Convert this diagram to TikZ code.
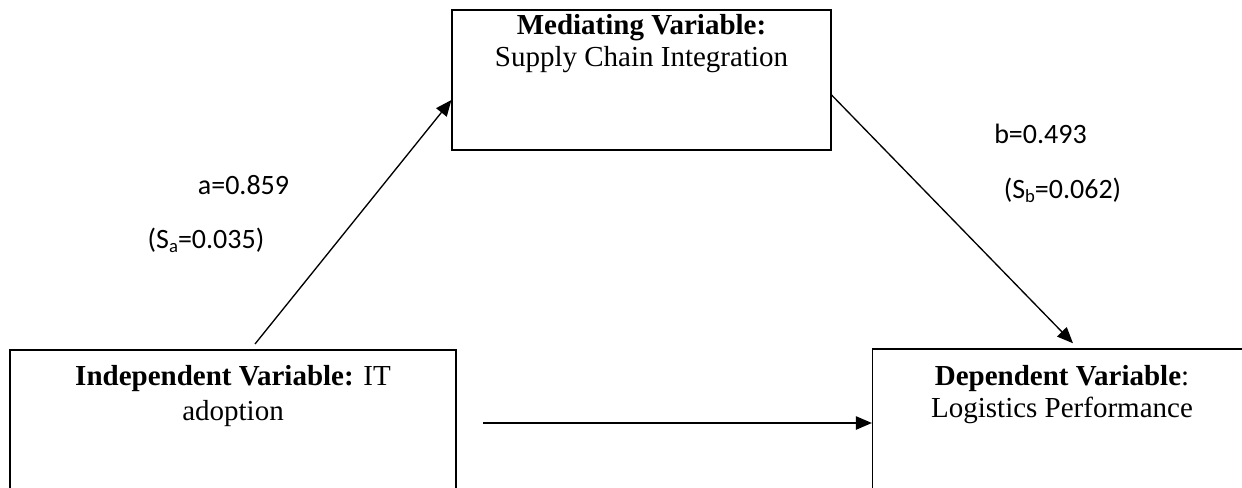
\documentclass[tikz,border=0pt]{standalone}
\usepackage{fontspec}
\setmainfont{Liberation Serif}
\newfontfamily\calibri{Carlito}
\usetikzlibrary{positioning,calc,arrows.meta}
\newcommand{\lowsub}[1]{\raisebox{-0.3ex}{\fontsize{14}{14}\selectfont #1}}

\begin{document}
\begin{tikzpicture}[x=0.75pt,y=-0.75pt]
  \tikzstyle{box} = [rectangle, draw=black, line width=1.1pt, minimum width=284pt, minimum height=105pt, inner sep=0pt]
  \tikzstyle{title} = [align=center, font=\fontsize{21.75}{26}\selectfont, inner sep=0pt]
  \tikzstyle{coef} = [font=\calibri\fontsize{21}{24}\selectfont, inner sep=0pt]
  \tikzstyle{arrow} = [line width=1pt, -{Triangle[length=12pt, width=10pt]}]

  \useasboundingbox (0,0) rectangle (1242,488);
  \clip (0,0) rectangle (1242,488);

  \node (med) [box] at (641.5,80) {};
  \node (indep) [box, minimum width=334.5pt] at (233,420) {};
  \node (dep) [box] at (1062,419) {};

  \node (medtext) [title, below=4pt of med.north] {\textbf{Mediating Variable:}\\[-2pt]Supply Chain Integration};
  \node (indeptext) [title, below=12pt of indep.north] {\textbf{Independent Variable:} IT\\adoption};
  \node (deptext) [title, below=13pt of dep.north] {\textbf{Dependent Variable}:\\[-2pt]Logistics Performance};

  \node (a) [coef] at (243.5,185) {a=0.859};
  \node (sa) [coef] at (206,240) {(S\lowsub{a}=0.035)};
  \node (b) [coef] at (1040.5,134) {b=0.493};
  \node (sb) [coef] at (1062.5,190) {(S\lowsub{b}=0.062)};

  \coordinate (astart) at (255,344);
  \draw [arrow] (astart) -- ($(med.west)+(0,20)$);
  \draw [arrow] ($(med.east)+(0,15)$) -- ($(dep.north)+(11,-5)$);
  \coordinate (cstart) at (483,423);
  \draw [arrow] (cstart) -- (cstart -| dep.west);
\end{tikzpicture}
\end{document}
